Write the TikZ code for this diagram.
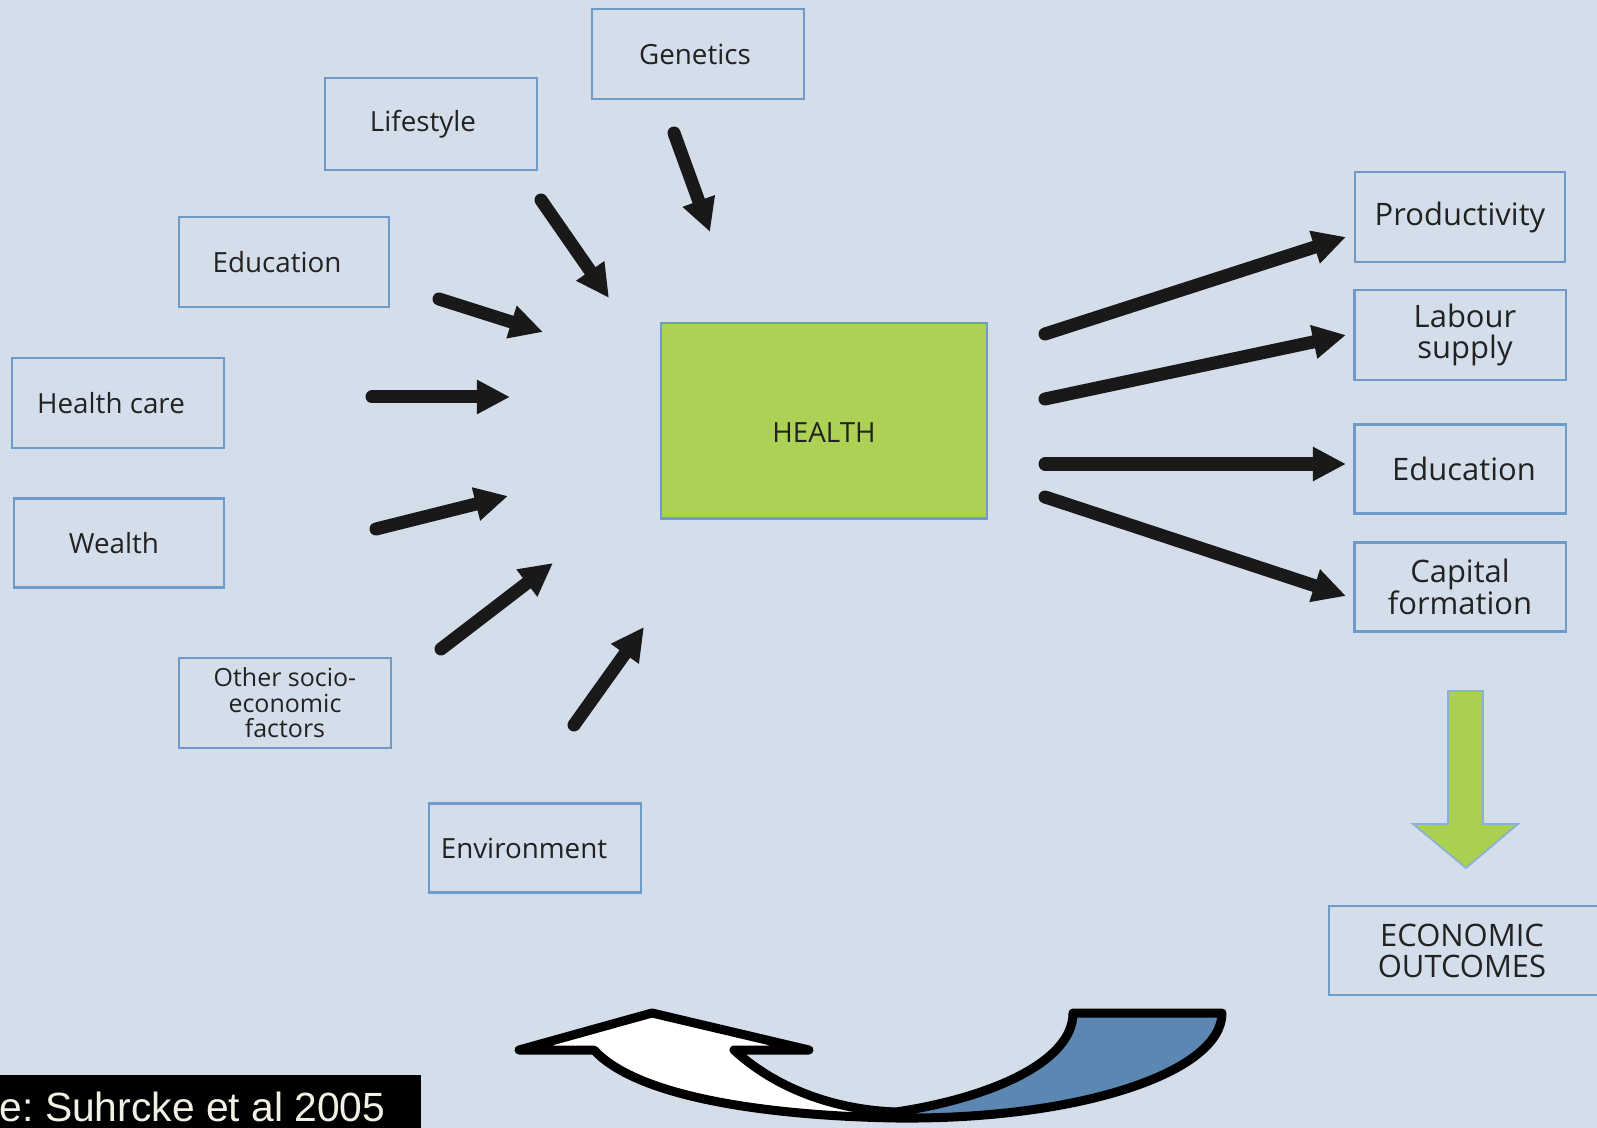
\documentclass[tikz,border=0pt]{standalone}
\usepackage{fontspec}
\newfontfamily\osans{Open Sans}
\newfontfamily\lsans{Liberation Sans}
\usetikzlibrary{arrows.meta}
\definecolor{bg}{HTML}{D4DEEB}
\definecolor{boxblue}{HTML}{6F9BCB}
\definecolor{healthgreen}{HTML}{ACD155}
\definecolor{arrowgreen}{HTML}{A9D04F}
\definecolor{txt}{HTML}{222222}
\definecolor{bandblue}{HTML}{5B87B2}
\definecolor{cream}{HTML}{F2F0E4}
\tikzset{
  box/.style={draw=boxblue, line width=0.6pt, minimum width=2.12cm, minimum height=0.9cm,
    inner sep=0pt, text=txt, align=center, font=\osans\fontsize{7.9}{8}\selectfont},
  rbox/.style={box, font=\osans\fontsize{8.8}{8.9}\selectfont},
  fatarrow/.style={line width=0.13cm, line cap=round, draw=black!90,
    -{Triangle[length=0.33cm, width=0.32cm]}},
}
\begin{document}
\begin{tikzpicture}[x=0.01cm, y=-0.01cm]
\useasboundingbox (0,0) rectangle (1597,1128);
\fill[bg] (0,0) rectangle (1597,1128);

% left / upper boxes
\node[box] (gen) at (698,54) {Genetics\hspace{0.06cm}};
\node[box, minimum height=0.92cm] (life) at (431,124) {Lifestyle\hspace{0.16cm}};
\node[box, minimum width=2.10cm] (edul) at (284,262) {Education\hspace{0.14cm}};
\node[box] (hc) at (118,403) {Health care\hspace{0.14cm}};
\node[box, minimum width=2.10cm, minimum height=0.89cm] (wealth) at (119,543) {Wealth\hspace{0.10cm}};
\node[box, font=\osans\fontsize{7.1}{7.25}\selectfont] (other) at (285,703) {Other socio-\\economic\\factors};
\node[box, minimum height=0.89cm] (env) at (535,848) {Environment\hspace{0.22cm}};

% central
\node[draw=boxblue, line width=0.6pt, fill=healthgreen, minimum width=3.25cm, minimum height=1.95cm] (health) at (824,421) {};
\node[text=txt, inner sep=0pt, font=\osans\fontsize{7.9}{8}\selectfont] (healthlbl) at (824,433) {HEALTH};

% right boxes
\node[rbox, minimum width=2.10cm] (prod) at (1460,217) {Productivity};
\node[rbox, minimum width=2.11cm] (lab) at (1460,335) {\hspace{0.1cm}Labour\\\hspace{0.1cm}supply};
\node[rbox, minimum width=2.11cm, minimum height=0.89cm] (edur) at (1460,469) {\hspace{0.08cm}Education};
\node[rbox, minimum width=2.11cm, minimum height=0.89cm] (cap) at (1460,587) {Capital\\formation};

% economic outcomes (box runs off the right edge)
\draw[boxblue, line width=0.6pt] (1610,906) -- (1329,906) -- (1329,995) -- (1610,995);
\node[text=txt, align=center, inner sep=0pt, font=\osans\fontsize{8.8}{8.9}\selectfont] (econ) at (1462,951) {ECONOMIC\\OUTCOMES};

% arrow end points
\coordinate (g1) at (674,133); \coordinate (g2) at (710,232);
\coordinate (l1) at (541,200); \coordinate (l2) at (609,298);
\coordinate (e1) at (439,299); \coordinate (e2) at (543,332);
\coordinate (h1) at (372,397); \coordinate (h2) at (510,397);
\coordinate (w1) at (376,529); \coordinate (w2) at (508,496);
\coordinate (o1) at (441,649); \coordinate (o2) at (553,563);
\coordinate (v1) at (574,725); \coordinate (v2) at (644,627);
\coordinate (r1a) at (1045,334); \coordinate (r1b) at (1346,237);
\coordinate (r2a) at (1045,399); \coordinate (r2b) at (1346,335);
\coordinate (r3a) at (1045,464); \coordinate (r3b) at (1346,464);
\coordinate (r4a) at (1045,497); \coordinate (r4b) at (1346,596);

\foreach \a/\b in {g1/g2,l1/l2,e1/e2,h1/h2,w1/w2,o1/o2,v1/v2,r1a/r1b,r2a/r2b,r3a/r3b,r4a/r4b}
  \draw[fatarrow] (\a) -- (\b);

% green block arrow
\draw[fill=arrowgreen, draw=boxblue!80, line width=0.5pt, line join=miter]
  (1448,691) -- (1483,691) -- (1483,824) -- (1518,824) -- (1466,868) -- (1413,824) -- (1448,824) -- cycle;

% bottom curved arrow
\fill[white] (519,1050) -- (652,1013) -- (809,1050) -- (734,1050)
  .. controls (780,1092) and (840,1110) .. (896,1112)
  .. controls (780,1116) and (640,1100) .. (594,1050) -- cycle;
\fill[bandblue] (896,1112) .. controls (990,1098) and (1073,1062) .. (1073,1013)
  -- (1222,1013) .. controls (1222,1072) and (1080,1120) .. (896,1118) -- cycle;
\draw[black, line width=0.09cm, line join=round]
  (519,1050) -- (652,1013) -- (809,1050) -- (734,1050)
  .. controls (780,1092) and (840,1110) .. (896,1112)
  .. controls (990,1098) and (1073,1062) .. (1073,1013)
  -- (1222,1013) .. controls (1222,1072) and (1080,1120) .. (896,1118)
  .. controls (780,1116) and (640,1100) .. (594,1050) -- cycle;

% source label
\fill[black] (0,1075) rectangle (421,1128);
\node[anchor=base east, inner sep=0pt, text=cream, font=\lsans\fontsize{11.6}{12}\selectfont] (src) at (386,1121) {\frenchspacing e: Suhrcke et al 2005};
\end{tikzpicture}
\end{document}
